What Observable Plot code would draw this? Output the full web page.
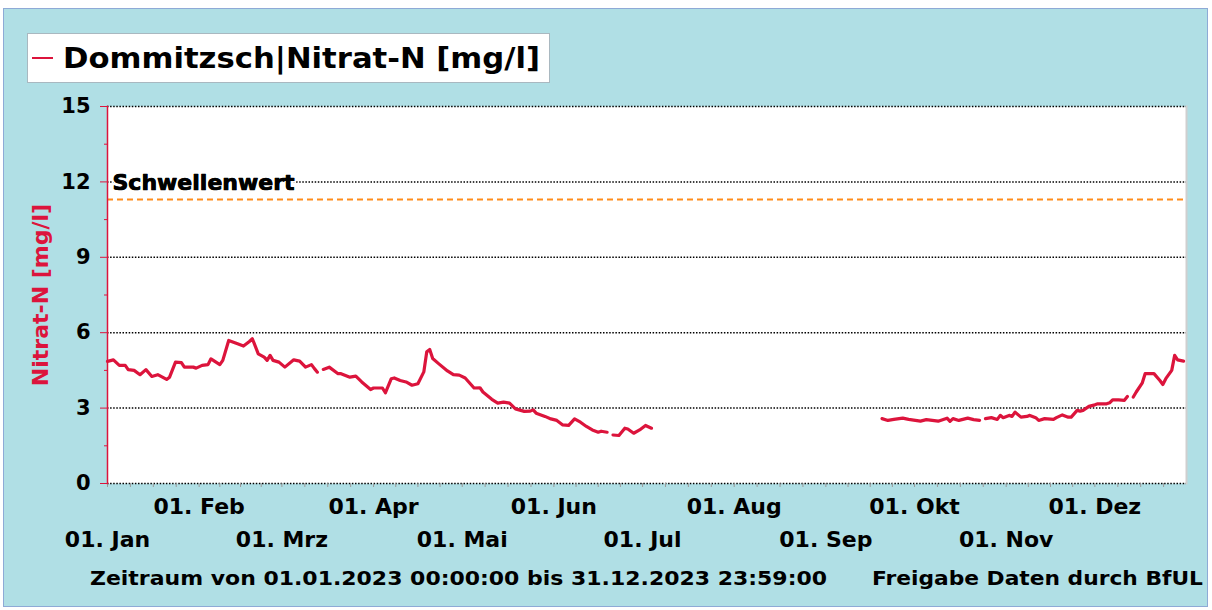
<!DOCTYPE html>
<html>
<head>
<meta charset="utf-8">
<script src="https://cdn.jsdelivr.net/npm/d3@7"></script>
<script src="https://cdn.jsdelivr.net/npm/@observablehq/plot@0.6"></script>
<style>
  html, body { margin: 0; padding: 0; background: #ffffff; }
  body { width: 1212px; height: 610px; position: relative; overflow: hidden;
         font-family: "DejaVu Sans", Verdana, sans-serif; }
  #panel { position: absolute; left: 3px; top: 8px; width: 1205px; height: 599px;
           background: #b0dfe5; border: 1px solid #8eaad6; box-sizing: border-box; }
  #chart { position: absolute; left: 0; top: 0; }
  #chart svg text { font-weight: bold; }
  #legend { position: absolute; left: 27px; top: 33px; width: 523px; height: 50px;
            background: #fff; border: 1px solid #a9b8c0; box-sizing: border-box; }
  #legend .swatch { position: absolute; left: 4px; top: 23px; width: 21px; height: 2px; background: #dc143c; }
  #legend .label { position: absolute; left: 35px; top: 4px; font-size: 29px; font-weight: bold;
                   color: #000; white-space: nowrap; line-height: 40px; transform-origin: left center; }
  .foot { position: absolute; top: 565px; font-size: 20px; font-weight: bold; color: #000;
          white-space: nowrap; line-height: 26px; transform-origin: left center; }
</style>
</head>
<body>
<div id="panel"></div>
<div id="chart"></div>
<div id="legend"><div class="swatch"></div><div class="label" id="legendLabel"></div></div>
<div class="foot" id="foot1" style="left:90px"></div>
<div class="foot" id="foot2" style="left:872px"></div>
<script>
// ---- data (day offset from 01.01.2023, Nitrat-N in mg/l; null = no data) ----
const days = [
  0,2,4,6,7,9,11,13,15,17,20,21,23,25,26,29,30,32,34,35,38,39,41,44,46,48,49,51,53,54,55,56,58,60,63,65,67,69,70,71,72,
  73,75,78,79,82,84,86,89,90,93,94,96,97,99,101,103,105,107,108,109,110,112,115,117,119,121,124,126,127,130,132,134,136,138,141,143,144,145,148,150,152,154,156,158,160,162,164,166,167,169,170,
  171,173,175,176,178,180,182,184,185,
  262,264,266,269,271,275,277,279,281,284,285,286,288,291,293,295,296,
  297,299,301,302,303,305,306,307,309,311,312,314,315,317,320,321,323,325,326,328,329,330,332,334,335,338,339,340,342,344,345,346,
  347,348,350,351,354,356,357,358,360,361,362,364
];
const nitrat = [
  4.86,4.92,4.70,4.70,4.53,4.50,4.33,4.53,4.26,4.33,4.14,4.23,4.83,4.81,4.63,4.63,4.59,4.70,4.73,4.96,4.73,4.90,5.69,5.56,5.47,5.65,5.76,5.16,5.03,4.90,5.10,4.90,4.83,4.63,4.92,4.87,4.63,4.73,4.57,4.43,null,
  4.54,4.63,4.37,4.37,4.23,4.27,4.04,3.74,3.80,3.80,3.61,4.17,4.20,4.10,4.04,3.91,3.97,4.44,5.24,5.33,4.97,4.77,4.48,4.33,4.31,4.20,3.80,3.81,3.64,3.35,3.20,3.24,3.20,2.97,2.87,2.88,2.93,2.80,2.67,2.57,2.51,2.33,2.31,2.57,2.44,2.27,2.13,2.04,2.08,2.04,null,
  1.93,1.91,2.20,2.17,2.00,2.13,2.31,2.20,null,
  2.58,2.51,2.55,2.60,2.55,2.48,2.54,2.51,2.48,2.60,2.47,2.58,2.51,2.60,2.54,2.51,null,
  2.58,2.62,2.55,2.71,2.62,2.71,2.67,2.84,2.64,2.67,2.71,2.62,2.51,2.58,2.55,2.62,2.73,2.64,2.64,2.91,2.88,2.91,3.07,3.13,3.17,3.17,3.21,3.33,3.33,3.31,3.46,null,
  3.44,3.64,3.99,4.37,4.37,4.10,3.94,4.17,4.50,5.10,4.92,4.87
];
const threshold = 11.3;
const thresholdLabel = "Schwellenwert";
const yTicks = [0, 3, 6, 9, 12, 15];
const yMinorTicks = [1.5, 4.5, 7.5, 10.5, 13.5];
const monthLabels = ["Jan","Feb","Mrz","Apr","Mai","Jun","Jul","Aug","Sep","Okt","Nov","Dez"];
const legendText = "Dommitzsch|Nitrat-N [mg/l]";
const yTitle = "Nitrat-N [mg/l]";
const footLeft = "Zeitraum von 01.01.2023 00:00:00 bis 31.12.2023 23:59:00";
const footRight = "Freigabe Daten durch BfUL";

// ---- build ----
const start = new Date(Date.UTC(2023, 0, 1));
const end = new Date(Date.UTC(2024, 0, 1));
const data = days.map((d, i) => ({date: d3.utcDay.offset(start, d), value: nitrat[i]}));
const months = d3.utcMonth.range(start, end);
const evenMonths = months.filter((m, i) => i % 2 === 1);
const oddMonths = months.filter((m, i) => i % 2 === 0);
const minorX = months.flatMap(m => {
  const n = d3.utcMonth.offset(m, 1);
  return [0, 0.25, 0.5, 0.75].map(f => new Date(+m + f * (n - m)));
});
const fmt = d => "01. " + monthLabels[d.getUTCMonth()];
const red = "#dc143c";

const chart = Plot.plot({
  width: 1212,
  height: 610,
  marginLeft: 107,
  marginRight: 26,
  marginTop: 106,
  marginBottom: 127,
  style: {background: "transparent", fontFamily: "'DejaVu Sans', Verdana, sans-serif", overflow: "visible"},
  x: {type: "utc", domain: [start, end]},
  y: {domain: [0, 15]},
  marks: [
    Plot.frame({fill: "white", stroke: null}),
    Plot.frame({anchor: "right", stroke: "#cfcfcf", strokeWidth: 2}),
    Plot.ruleY(yTicks, {stroke: "black", strokeWidth: 1.5, strokeDasharray: "1.5,1.6"}),
    Plot.ruleY([threshold], {stroke: "#ff8c1a", strokeWidth: 2, strokeDasharray: "6,4"}),
    Plot.text([thresholdLabel], {x: start, y: threshold, text: d => d, textAnchor: "start", dx: 5, dy: -17,
      fontSize: 22, fontWeight: "bold", fill: "black", stroke: "white", strokeWidth: 4}),
    Plot.text([thresholdLabel], {x: start, y: threshold, text: d => d, textAnchor: "start", dx: 5, dy: -17,
      fontSize: 22, fontWeight: "bold", fill: "black", stroke: "black", strokeWidth: 0.7}),
    Plot.line(data, {x: "date", y: "value", stroke: red, strokeWidth: 3.2, strokeLinejoin: "round"}),
    Plot.axisX({ticks: minorX, tickSize: 4, stroke: "#9a9a9a", tickFormat: () => "", label: null}),
    Plot.axisX({ticks: evenMonths, tickSize: 0, tickPadding: 15, tickFormat: fmt, fontSize: 22, fill: "black", label: null}),
    Plot.axisX({ticks: oddMonths, tickSize: 0, tickPadding: 48, tickFormat: fmt, fontSize: 22, fill: "black", label: null}),
    Plot.frame({anchor: "left", stroke: red, strokeWidth: 1.5}),
    Plot.axisY({ticks: yMinorTicks, tickSize: 3, stroke: red, tickFormat: () => "", label: null}),
    Plot.axisY({ticks: yTicks, tickSize: 7, tickPadding: 10, stroke: red, fill: "black", fontSize: 21, label: null}),
    Plot.text([yTitle], {frameAnchor: "left", text: d => d, rotate: -90, textAnchor: "middle", dx: -67,
      fontSize: 22, fontWeight: "bold", fill: red})
  ]
});
document.getElementById("chart").appendChild(chart);

document.getElementById("legendLabel").textContent = legendText;
document.getElementById("foot1").textContent = footLeft;
document.getElementById("foot2").textContent = footRight;

// fit text widths to the reference extents
function fit(el, w) {
  const r = el.getBoundingClientRect().width;
  if (r > 0) el.style.transform = `scaleX(${w / r})`;
}
fit(document.getElementById("legendLabel"), 477);
fit(document.getElementById("foot1"), 737);
fit(document.getElementById("foot2"), 331);
</script>
</body>
</html>
